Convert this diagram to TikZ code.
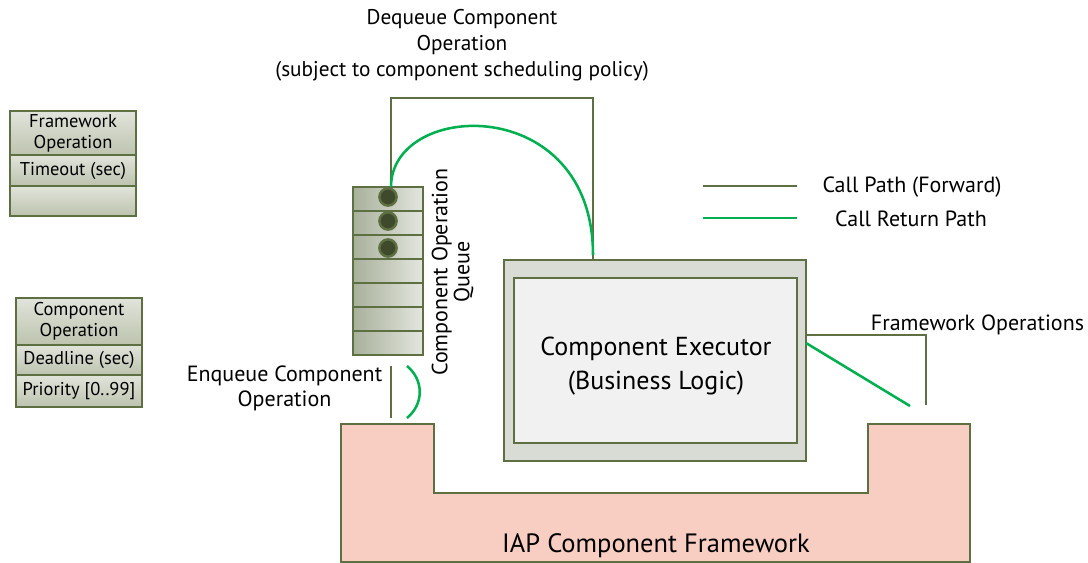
\documentclass[tikz,border=0pt]{standalone}
\usepackage{fontspec}
\setmainfont{PT Sans}
\usetikzlibrary{calc}
\definecolor{olv}{HTML}{5E7042}
\definecolor{grn}{HTML}{00B050}
\definecolor{pinkf}{HTML}{F8CEC3}
\definecolor{dotc}{HTML}{3E4A2B}
\definecolor{exout}{HTML}{D9DCD5}
\definecolor{exin}{HTML}{F1F1F1}
\definecolor{celltop}{HTML}{E1E4DB}
\definecolor{cellbot}{HTML}{BCC3AE}
\definecolor{qleft}{HTML}{A8B09A}
\definecolor{qright}{HTML}{E3E6DF}
\newcommand{\fpx}[2]{\pgfmathsetmacro\fpxs{#1*0.75}\pgfmathsetmacro\fpxb{#2*0.75}\fontsize{\fpxs}{\fpxb}\selectfont}
\begin{document}
\begin{tikzpicture}[x=0.75pt,y=-0.75pt,
  every node/.style={inner sep=0pt, outer sep=0pt},
  cellbox/.style={draw=olv, line width=1.9pt, top color=celltop, bottom color=cellbot,
    minimum width=94.5pt, align=center, font=\fpx{18.5}{21}},
  qcell/.style={draw=olv, line width=1.9pt, left color=qleft, right color=qright,
    minimum width=52.5pt, minimum height=18pt},
  qdot/.style={circle, draw=olv, fill=dotc, line width=1.8pt, minimum size=13pt},
  fwd/.style={draw=olv, line width=1.6pt},
  ret/.style={draw=grn, line width=1.9pt},
  lbl/.style={align=center, font=\fpx{22}{25}}
]
\useasboundingbox (0,0) rectangle (1088,563);

% info boxes
\node[cellbox, minimum height=33.75pt] (fw1) at (73,133.5) {Framework\\Operation};
\node[cellbox, minimum height=23.25pt] (fw2) at (73,170.5) {Timeout (sec)};
\node[cellbox, minimum height=22.5pt] (fw3) at (73,201) {};

\node[cellbox, minimum height=35.25pt] (co1) at (79,321.5) {Component\\Operation};
\node[cellbox, minimum height=22.5pt] (co2) at (79,360) {Deadline (sec)};
\node[cellbox, minimum height=24pt] (co3) at (79,391) {Priority [0..99]};

% framework U shape
\draw[olv, line width=1.9pt, fill=pinkf] (341,424) -- (434,424) -- (434,493) -- (868,493)
  -- (868,424) -- (970,424) -- (970,562) -- (341,562) -- cycle;
\node[font=\fpx{26.5}{30}] (iap) at (656,546) {IAP Component Framework};

% queue
\foreach \i in {1,...,7}{
  \node[qcell] (q\i) at (388,{175+24*\i}) {};
}
\node[qdot] (d1) at (388,197) {};
\node[qdot] (d2) at (388,221) {};
\node[qdot] (d3) at (388,248) {};
\node[align=center, font=\fpx{22}{22}, rotate=90] (qlbl) at (452.5,272) {Component Operation\\Queue};

% executor
\node[draw=olv, line width=1.9pt, fill=exout, minimum width=226.5pt, minimum height=150.75pt] (ex) at (655,360.5) {};
\node[draw=olv, line width=1.9pt, fill=exin, minimum width=212.25pt, minimum height=123.75pt] (exi) at (655.5,360.5) {};
\node[align=center, font=\fpx{26}{34}] (exl) at (656,366) {Component Executor\\(Business Logic)};

% dequeue
\coordinate (dqA) at (391,187);
\coordinate (dqB) at (593,260);
\draw[fwd] (dqA) |- (491,98) -| (dqB);
\draw[ret] (dqA) .. controls (391,100) and (593,92) .. ($(dqB)+(0,-5)$);
\node[align=center, font=\fpx{21.3}{26}] (dq) at (462,45) {Dequeue Component\\Operation\\(subject to component scheduling policy)};

% enqueue
\coordinate (enA) at (391,366);
\coordinate (enB) at (391,418);
\draw[fwd] (enA) -- (enB);
\coordinate (enC) at (407,366);
\coordinate (enD) at (407,418);
\draw[ret] (enC) .. controls (424,380) and (424,404) .. (enD);
\node[lbl] (enq) at (284.5,388.5) {Enqueue Component\\Operation};

% framework operations
\coordinate (foF) at (926,405);
\coordinate (foG) at (910,406);
\draw[fwd] ($(ex.east)+(0,-25.5)$) -| (foF);
\draw[ret] ($(ex.east)+(0,-17.5)$) -- (foG);
\node[lbl] (fol) at (977.5,325) {Framework Operations};

% legend
\coordinate (l1a) at (703,186); \coordinate (l1b) at (797,186);
\coordinate (l2a) at (703,218); \coordinate (l2b) at (797,218);
\draw[fwd] (l1a) -- (l1b);
\draw[ret] (l2a) -- (l2b);
\node[lbl] (lg1) at (912,187) {Call Path (Forward)};
\node[lbl] (lg2) at (911,219) {Call Return Path};
\end{tikzpicture}
\end{document}
